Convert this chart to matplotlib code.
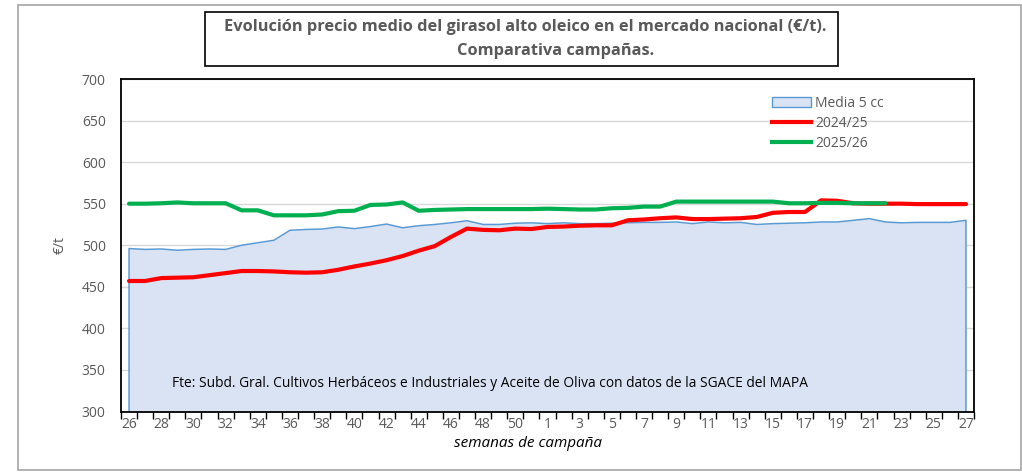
import matplotlib
matplotlib.use('Agg')
import matplotlib.pyplot as plt
from matplotlib.patches import Rectangle, Patch
from matplotlib.lines import Line2D
from matplotlib.ticker import MultipleLocator

plt.rcParams['font.family'] = ['Open Sans', 'DejaVu Sans']

# semanas de campaña (26..51, 1..27)
weeks = list(range(26, 52)) + list(range(1, 28))

media_5cc = [496, 495, 495.5, 494, 495, 495.5, 495, 500, 503, 506, 518, 519, 519.5,
             522, 520, 522.5, 525.5, 521, 523.5, 525, 527, 529.5, 525, 525, 526.5, 527,
             526, 527, 526, 526, 526.5, 527, 527.5, 527.5, 528, 526, 528, 527, 527.5,
             525, 526, 526.5, 527, 528, 528, 530, 532, 528, 527, 527.5, 527.5, 527.5, 530]

camp_2425 = [457, 457, 460.5, 461, 461.5, 464, 466.5, 469, 469, 468.5, 467.5, 467, 467.5,
             470.5, 474.5, 478, 482, 487, 493.5, 499, 510, 520, 518.5, 518, 520, 519.5,
             522, 522.5, 523.5, 524, 524, 530, 531, 532.5, 533.5, 531.5, 531.5, 532, 532.5,
             534, 539, 540, 540, 554, 553.5, 550.5, 550, 550, 550, 549.5, 549.5, 549.5, 549.5]

camp_2526 = [550, 550, 550.5, 551.5, 550.5, 550.5, 550.5, 542, 542, 536, 536, 536, 537,
             541, 541.5, 548.5, 549, 551.5, 541.5, 542.5, 543, 543.5, 543.5, 543.5, 543.5, 543.5,
             544, 543.5, 543, 543, 544.5, 545, 546.5, 546.5, 552.5, 552.5, 552.5, 552.5, 552.5,
             552.5, 552.5, 550.5, 550.5, 551, 551, 550.5, 550.5, 550.5]

ymin, ymax = 300, 700
grey = '#595959'

fig = plt.figure(figsize=(10.22, 4.76), dpi=100)
ax = fig.add_axes([121/1022, 1 - 411.5/476, 853/1022, 332.5/476])

x = list(range(len(weeks)))
ax.fill_between(x, ymin, media_5cc, color='#DAE3F3', lw=0, zorder=1)
ax.plot([x[0]] + x + [x[-1]], [ymin] + media_5cc + [ymin], color='#5B9BD5', lw=1.1, zorder=2)
ax.plot(x[:len(camp_2425)], camp_2425, color='#FF0000', lw=3, solid_capstyle='round', zorder=3)
ax.plot(x[:len(camp_2526)], camp_2526, color='#00B050', lw=3, solid_capstyle='round', zorder=4)

ax.set_xlim(-0.5, len(weeks) - 0.5)
ax.set_ylim(ymin, ymax)
ax.yaxis.set_major_locator(MultipleLocator(50))
ax.grid(axis='y', color='#D9D9D9', lw=1, zorder=0)
ax.set_axisbelow(True)

ax.set_xticks(x[::2])
ax.set_xticklabels([str(w) for w in weeks[::2]])
ax.set_xticks([i - 0.5 for i in x] + [x[-1] + 0.5], minor=True)
ax.tick_params(axis='x', which='major', length=0, pad=4, labelsize=10, labelcolor=grey)
ax.tick_params(axis='x', which='minor', length=5, width=1, color='black', direction='out')
ax.tick_params(axis='y', length=0, pad=11, labelsize=10, labelcolor=grey)
for s in ax.spines.values():
    s.set_color('black')
    s.set_linewidth(1.3)

ax.set_ylabel('€/t', fontsize=10, color=grey, labelpad=10)
ax.set_xlabel('semanas de campaña', fontsize=11, style='italic', color='black')
ax.xaxis.set_label_coords(0.477, -0.075)

ax.text(0.06, 0.075, 'Fte: Subd. Gral. Cultivos Herbáceos e Industriales y Aceite de Oliva con datos de la SGACE del MAPA',
        transform=ax.transAxes, fontsize=9.9, color='black')

handles = [Patch(facecolor='#DAE3F3', edgecolor='#5B9BD5', lw=1),
           Line2D([], [], color='#FF0000', lw=3),
           Line2D([], [], color='#00B050', lw=3)]
leg = ax.legend(handles, ['Media 5 cc', '2024/25', '2025/26'], loc='upper left',
                bbox_to_anchor=(0.757, 0.965), frameon=False, fontsize=10,
                handlelength=2.8, handletextpad=0.3, labelspacing=0.35, borderaxespad=0)
for t in leg.get_texts():
    t.set_color(grey)

# titulo con recuadro
fig.add_artist(Rectangle((205/1022, 1 - 66/476), 633/1022, 54/476, transform=fig.transFigure,
                         fill=False, edgecolor='black', lw=1.2))
fig.text(525/1022, 1 - 27/476, 'Evolución precio medio del girasol alto oleico en el mercado nacional (€/t).',
         ha='center', va='center', fontsize=11.8, fontweight='bold', color=grey)
fig.text(556/1022, 1 - 51/476, 'Comparativa campañas.',
         ha='center', va='center', fontsize=11.8, fontweight='bold', color=grey)

# borde exterior
fig.add_artist(Rectangle((18/1022, 1 - 470/476), 1003/1022, 465/476, transform=fig.transFigure,
                         fill=False, edgecolor='#A6A6A6', lw=1.2))

fig.savefig('out.png', dpi=100)
